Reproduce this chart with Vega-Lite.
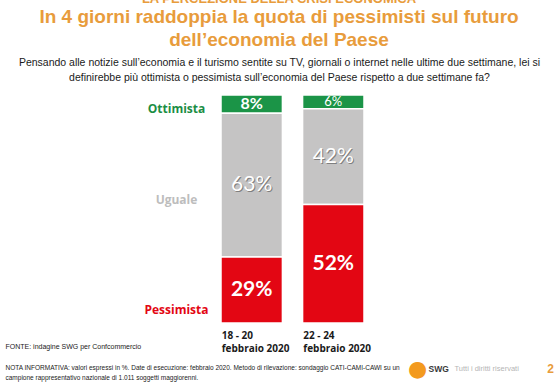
{
  "$schema": "https://vega.github.io/schema/vega-lite/v6.json",
  "width": 558,
  "height": 228,
  "autosize": {"type": "none"},
  "padding": {"left": 0, "top": 95, "right": 0, "bottom": 62},
  "background": "white",
  "config": {"view": {"stroke": null}},
  "title": {
    "text": "LA PERCEZIONE DELLA CRISI ECONOMICA",
    "subtitle": ["In 4 giorni raddoppia la quota di pessimisti sul futuro", "dell’economia del Paese"],
    "anchor": "middle",
    "frame": "group",
    "font": "Liberation Sans",
    "fontSize": 13,
    "fontWeight": "bold",
    "color": "#e89c3c",
    "subtitleFont": "Liberation Sans",
    "subtitleFontSize": 19,
    "subtitleFontWeight": "bold",
    "subtitleColor": "#e89c3c",
    "subtitleLineHeight": 23,
    "subtitlePadding": 2,
    "offset": 7
  },
  "data": {
    "values": [
      {"date": "18 - 20 febbraio 2020", "category": "Ottimista", "value": 8},
      {"date": "18 - 20 febbraio 2020", "category": "Uguale", "value": 63},
      {"date": "18 - 20 febbraio 2020", "category": "Pessimista", "value": 29},
      {"date": "22 - 24 febbraio 2020", "category": "Ottimista", "value": 6},
      {"date": "22 - 24 febbraio 2020", "category": "Uguale", "value": 42},
      {"date": "22 - 24 febbraio 2020", "category": "Pessimista", "value": 52}
    ]
  },
  "transform": [
    {"calculate": "indexof(['Pessimista','Uguale','Ottimista'], datum.category)", "as": "rank"},
    {"stack": "value", "groupby": ["date"], "sort": [{"field": "rank", "order": "ascending"}], "as": ["v0", "v1"]},
    {"calculate": "(datum.v0 + datum.v1) / 2", "as": "mid"},
    {"calculate": "datum.value + '%'", "as": "lbl"}
  ],
  "resolve": {"axis": {"x": "independent", "y": "independent"}},
  "layer": [
    {
      "mark": {"type": "bar", "stroke": "white", "strokeWidth": 1.5},
      "encoding": {
        "x": {
          "field": "date", "type": "nominal", "sort": null,
          "scale": {"range": [221, 364], "paddingInner": 0.247, "paddingOuter": 0},
          "axis": {
            "orient": "bottom", "labelAlign": "left", "labelBaseline": "top", "labelOffset": -30,
            "labelAngle": 0,
            "labelExpr": "[slice(datum.label, 0, 7), slice(datum.label, 8)]",
            "labelFont": "Open Sans", "labelFontWeight": "bold", "labelFontSize": 10, "labelColor": "#1a1a1a",
            "labelLineHeight": 13, "labelPadding": 7,
            "ticks": false, "tickSize": 0, "domain": false, "grid": false,
            "title": ["NOTA INFORMATIVA: valori espressi in %. Date di esecuzione: febbraio 2020. Metodo di rilevazione: sondaggio CATI-CAMI-CAWI su un", "campione rappresentativo nazionale di 1.011 soggetti maggiorenni."],
            "titleX": 5, "titleY": 46, "titleAlign": "left", "titleBaseline": "alphabetic", "titleAnchor": "start",
            "titleFont": "Liberation Sans", "titleFontSize": 6.5, "titleFontWeight": "normal", "titleColor": "#1a1a1a", "titleLineHeight": 10
          }
        },
        "y": {
          "field": "v0", "type": "quantitative",
          "scale": {"domain": [0, 100], "nice": false, "zero": true},
          "axis": {
            "orient": "left", "offset": -190, "values": [6, 54, 94],
            "labelExpr": "datum.value < 30 ? 'Pessimista' : datum.value < 70 ? 'Uguale' : 'Ottimista'",
            "labelColor": {"expr": "datum.value < 30 ? '#e30613' : datum.value < 70 ? '#bdbdbd' : '#1b8e44'"},
            "labelFont": "Open Sans", "labelFontWeight": "bold", "labelFontSize": 12,
            "labelAlign": "center", "labelPadding": 14, "labelBaseline": "middle",
            "ticks": false, "tickSize": 0, "domain": false, "grid": false,
            "title": "FONTE: indagine SWG per Confcommercio",
            "titleX": -185, "titleY": 251, "titleAngle": 0, "titleAlign": "left", "titleBaseline": "middle",
            "titleFont": "Liberation Sans", "titleFontSize": 7, "titleFontWeight": "normal", "titleColor": "#1a1a1a"
          }
        },
        "y2": {"field": "v1"},
        "color": {
          "field": "category", "type": "nominal",
          "scale": {"domain": ["Ottimista", "Uguale", "Pessimista"], "range": ["#1b9447", "#c5c4c4", "#e30613"]},
          "legend": null
        }
      }
    },
    {
      "transform": [{"filter": "datum.category == 'Pessimista'"}],
      "mark": {"type": "text", "font": "Lato", "fontWeight": "bold", "fontSize": 21, "color": "white", "baseline": "middle"},
      "encoding": {
        "x": {"field": "date", "type": "nominal", "sort": null, "bandPosition": 0.5,
          "axis": {"orient": "bottom", "labels": false, "ticks": false, "domain": false, "grid": false,
            "title": "Tutti i diritti riservati", "titleX": 454, "titleY": 45, "titleAlign": "left", "titleBaseline": "middle",
            "titleFont": "Liberation Sans", "titleFontSize": 7.5, "titleFontWeight": "normal", "titleColor": "#b5b5b5"}},
        "y": {"field": "mid", "type": "quantitative",
          "axis": {"orient": "left", "labels": false, "ticks": false, "domain": false, "grid": false,
            "title": ["Pensando alle notizie sull’economia e il turismo sentite su TV, giornali o internet nelle ultime due settimane, lei si", "definirebbe più ottimista o pessimista sull’economia del Paese rispetto a due settimane fa?"],
            "titleX": 279, "titleY": -38, "titleAngle": 0, "titleAlign": "center", "titleBaseline": "top",
            "titleFont": "Liberation Sans", "titleFontSize": 10.5, "titleFontWeight": "normal", "titleColor": "#1a1a1a", "titleLineHeight": 15}},
        "text": {"field": "lbl"}
      }
    },
    {
      "transform": [{"filter": "datum.category == 'Uguale'"}],
      "mark": {"type": "text", "font": "Lato", "fontWeight": "normal", "fontSize": 21, "color": "#6e6e6e", "opacity": 0.8, "dx": 1, "dy": 1, "baseline": "middle"},
      "encoding": {
        "x": {"field": "date", "type": "nominal", "sort": null, "bandPosition": 0.5,
          "axis": {"orient": "bottom", "labels": false, "ticks": false, "domain": false, "grid": false,
            "title": "2", "titleX": 550, "titleY": 45, "titleAlign": "center", "titleBaseline": "middle",
            "titleFont": "Liberation Sans", "titleFontSize": 12, "titleFontWeight": "bold", "titleColor": "#e89c3c"}},
        "y": {"field": "mid", "type": "quantitative",
          "axis": {"orient": "left", "labels": false, "ticks": false, "domain": false, "grid": false,
            "title": "SWG", "titleX": 428, "titleY": 273, "titleAngle": 0, "titleAlign": "left", "titleBaseline": "middle",
            "titleFont": "Liberation Sans", "titleFontSize": 8.5, "titleFontWeight": "bold", "titleColor": "#3a3a3a"}},
        "text": {"field": "lbl"}
      }
    },
    {
      "transform": [{"filter": "datum.category == 'Uguale'"}],
      "mark": {"type": "text", "font": "Lato", "fontWeight": "normal", "fontSize": 21, "color": "white", "baseline": "middle"},
      "encoding": {
        "x": {"field": "date", "type": "nominal", "sort": null, "bandPosition": 0.5, "axis": null},
        "y": {"field": "mid", "type": "quantitative", "axis": null},
        "text": {"field": "lbl"}
      }
    },
    {
      "transform": [{"filter": "datum.category == 'Ottimista' && datum.value > 7"}],
      "mark": {"type": "text", "font": "Lato", "fontWeight": "bold", "fontSize": 16, "color": "white", "baseline": "middle"},
      "encoding": {
        "x": {"field": "date", "type": "nominal", "sort": null, "bandPosition": 0.5,
          "axis": {"orient": "bottom", "labels": false, "ticks": false, "domain": false, "grid": false,
            "title": "●", "titleX": 417, "titleY": 45, "titleAlign": "center", "titleBaseline": "middle",
            "titleFont": "DejaVu Sans", "titleFontSize": 22, "titleFontWeight": "normal", "titleColor": "#f39a1e"}},
        "y": {"field": "mid", "type": "quantitative", "axis": null},
        "text": {"field": "lbl"}
      }
    },
    {
      "transform": [{"filter": "datum.category == 'Ottimista' && datum.value <= 7"}],
      "mark": {"type": "text", "font": "Lato", "fontWeight": "normal", "fontSize": 13, "color": "white", "baseline": "middle"},
      "encoding": {
        "x": {"field": "date", "type": "nominal", "sort": null, "bandPosition": 0.5, "axis": null},
        "y": {"field": "mid", "type": "quantitative", "axis": null},
        "text": {"field": "lbl"}
      }
    }
  ]
}
